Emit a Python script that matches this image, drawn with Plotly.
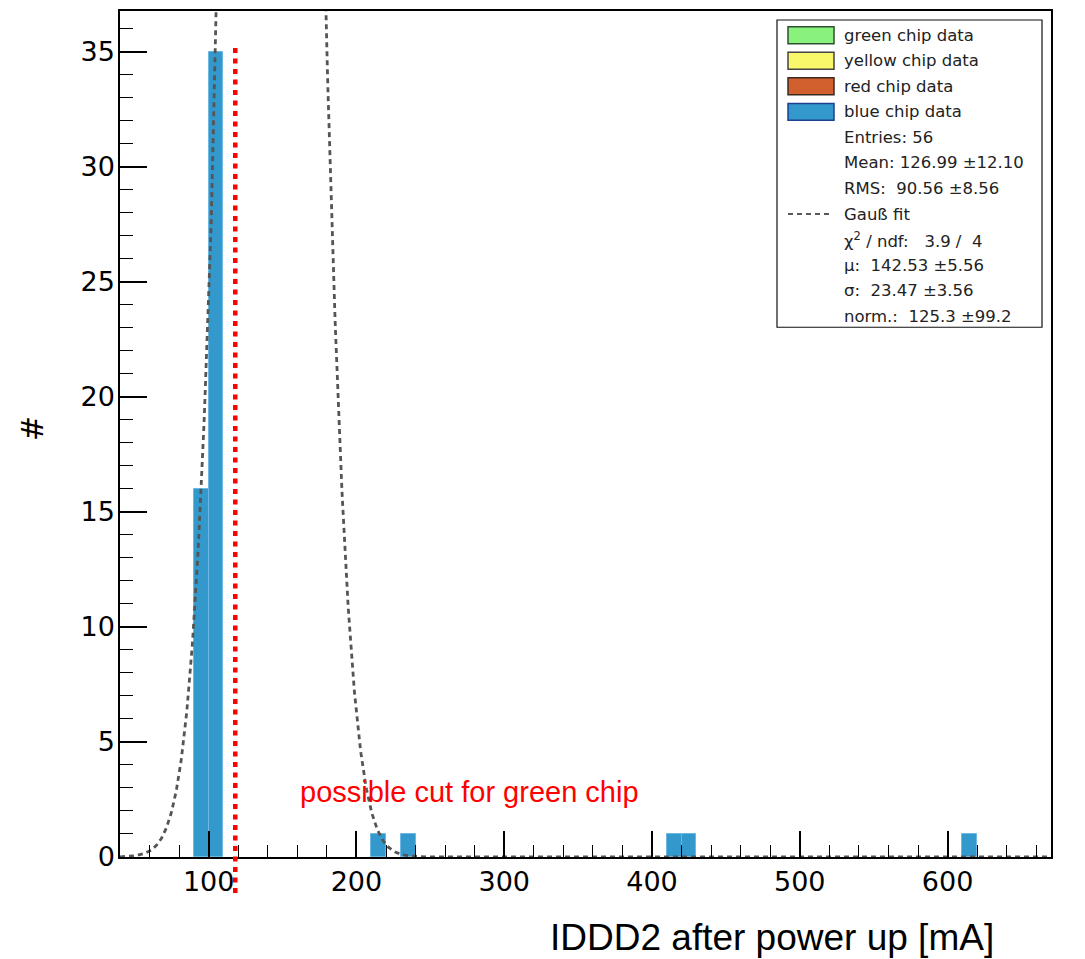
import numpy as np
import plotly.graph_objects as go

# ---------------- data ----------------
bin_width = 10
bin_low_edges = [90, 100, 210, 230, 410, 420, 610]
bin_counts = [16, 35, 1, 1, 1, 1, 1]

fit_mu = 142.53
fit_sigma = 23.47
fit_norm = 125.3

x_range = [40, 670]
y_range = [0, 36.77]
x_major = [100, 200, 300, 400, 500, 600]

cut_value = 118
cut_y_span = [-1.56, 35.2]
cut_text = "possible cut for green chip"

legend_labels = ["green chip data", "yellow chip data", "red chip data", "blue chip data"]
legend_colors = ["#88f27c", "#f9f76a", "#d2602e", "#3399cc"]
legend_edges = ["#2f4f2f", "#444444", "#3a2a20", "#1f3f8f"]
stats_lines = ["Entries: 56", "Mean: 126.99 \u00b112.10", "RMS:\u00a0 90.56 \u00b18.56"]
fit_label = "Gau\u00df fit"
fit_lines = ["\u03c7<sup>2</sup> / ndf:\u00a0\u00a0 3.9 /\u00a0 4",
             "\u00b5:\u00a0 142.53 \u00b15.56",
             "\u03c3:\u00a0 23.47 \u00b13.56",
             "norm.:\u00a0 125.3 \u00b199.2"]

x_title = "IDDD2 after power up [mA]"
y_title = "#"

BAR_COLOR = "#3399cc"
W, H = 1085, 959
ML, MR, MT, MB = 120, 34, 9, 102

# ---------------- figure ----------------
fig = go.Figure()

centers = [e + bin_width / 2 for e in bin_low_edges]
fig.add_trace(go.Bar(
    x=centers, y=bin_counts, width=bin_width,
    marker=dict(color=BAR_COLOR, line=dict(color="#6cb8e2", width=1)),
    showlegend=False, hoverinfo="x+y",
))

# Gauss fit function sampled over the axis range
xs = np.linspace(x_range[0], x_range[1], 1500)
ys = fit_norm * np.exp(-0.5 * ((xs - fit_mu) / fit_sigma) ** 2)
fig.add_trace(go.Scatter(
    x=xs, y=ys, mode="lines",
    line=dict(color="#555555", width=2.8, dash="5px,4px"),
    showlegend=False, hoverinfo="skip",
))

# helpers: pixel -> paper
pw = W - ML - MR
ph = H - MT - MB
def px(x):
    return (x - ML) / pw
def py(y):
    return (H - MB - y) / ph
def ypaper(v):
    return (v - y_range[0]) / (y_range[1] - y_range[0])

shapes = []
annotations = []

# cut line
shapes.append(dict(type="line", xref="x", yref="paper",
                   x0=cut_value, x1=cut_value,
                   y0=ypaper(cut_y_span[0]), y1=ypaper(cut_y_span[1]),
                   line=dict(color="#ff0000", width=4.5, dash="5px,5.5px"),
                   layer="above"))
annotations.append(dict(xref="x", yref="y", x=160.5, y=2.82, xanchor="left", yanchor="middle",
                        text=cut_text, showarrow=False,
                        font=dict(family="Liberation Sans, Arial", size=29, color="#ff0000")))

# legend box
shapes.append(dict(type="rect", xref="paper", yref="paper",
                   x0=px(777), x1=px(1042), y0=py(326), y1=py(18),
                   line=dict(color="#111111", width=1.2), fillcolor="white", layer="above"))
row0, drow = 33.3, 25.6
text_x = 842
lfont = dict(family="DejaVu Sans", size=16.5, color="#222222")
rows = []
for i, (lab, col, ec) in enumerate(zip(legend_labels, legend_colors, legend_edges)):
    yc = row0 + i * drow
    shapes.append(dict(type="rect", xref="paper", yref="paper",
                       x0=px(788), x1=px(834), y0=py(yc + 8.5), y1=py(yc - 8.5),
                       line=dict(color=ec, width=1.5), fillcolor=col, layer="above"))
    rows.append(lab)
rows += stats_lines
rows.append(fit_label)
fit_row = len(rows) - 1
rows += fit_lines
for i, t in enumerate(rows):
    yc = row0 + i * drow
    annotations.append(dict(xref="paper", yref="paper", x=px(text_x), y=py(yc),
                            xanchor="left", yanchor="middle", text=t, showarrow=False,
                            font=lfont))
yc = row0 + fit_row * drow
shapes.append(dict(type="line", xref="paper", yref="paper",
                   x0=px(788), x1=px(829), y0=py(yc), y1=py(yc),
                   line=dict(color="#5a5a5a", width=2, dash="5px,4px"), layer="above"))

# axis titles
annotations.append(dict(xref="paper", yref="paper", x=px(772), y=py(938),
                        xanchor="center", yanchor="middle", text=x_title, showarrow=False,
                        font=dict(family="Liberation Sans, Arial", size=37, color="black")))
annotations.append(dict(xref="paper", yref="paper", x=px(32), y=py(428),
                        xanchor="center", yanchor="middle", text=y_title, showarrow=False,
                        textangle=-90,
                        font=dict(family="DejaVu Sans", size=30, color="black")))

tickfont = dict(family="DejaVu Sans", size=27, color="black")
fig.update_layout(
    width=W, height=H,
    margin=dict(l=ML, r=MR, t=MT, b=MB, pad=0),
    paper_bgcolor="white", plot_bgcolor="white",
    shapes=shapes, annotations=annotations,
    bargap=0, showlegend=False,
    xaxis=dict(range=x_range, tickvals=x_major, ticks="inside", ticklen=26, tickwidth=1.5,
               tickcolor="black", showline=True, linecolor="black", linewidth=1.5,
               mirror=True, showgrid=False, zeroline=False, tickfont=tickfont,
               ticklabelstandoff=0,
               minor=dict(dtick=20, tick0=0, ticks="inside", ticklen=12, tickwidth=1.2,
                          tickcolor="black", showgrid=False)),
    yaxis=dict(range=y_range, dtick=5, tick0=0, ticks="inside", ticklen=27, tickwidth=1.5,
               tickcolor="black", showline=True, linecolor="black", linewidth=1.5,
               mirror=True, showgrid=False, zeroline=False, tickfont=tickfont,
               ticklabelstandoff=-2,
               minor=dict(dtick=1, tick0=0, ticks="inside", ticklen=13, tickwidth=1.2,
                          tickcolor="black", showgrid=False)),
)

fig.write_html("out.html")
